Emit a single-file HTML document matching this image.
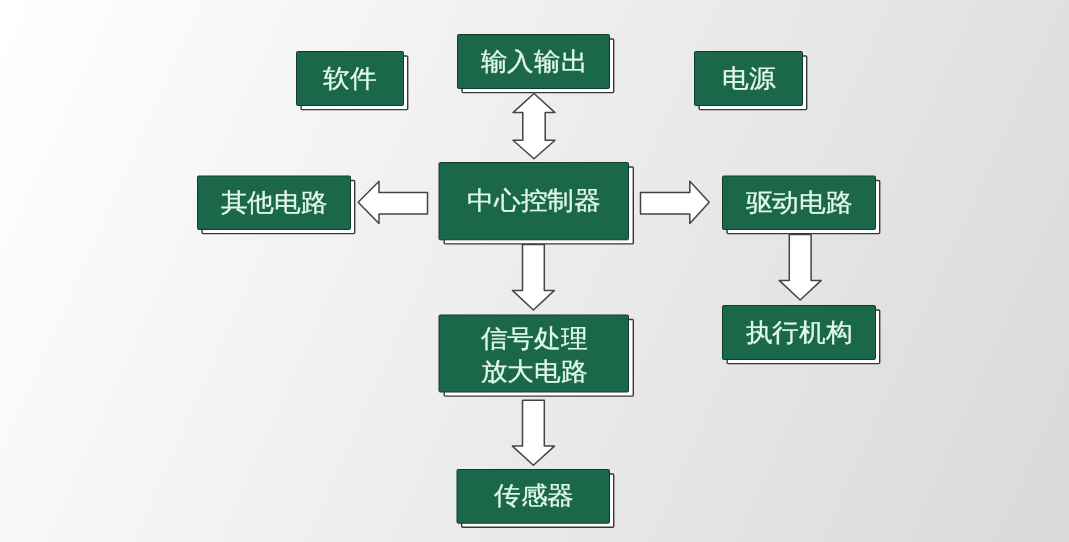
<!DOCTYPE html>
<html><head><meta charset="utf-8">
<style>
html,body{margin:0;padding:0;}
body{width:1069px;height:542px;overflow:hidden;position:relative;background:linear-gradient(114deg,#ffffff 0%,#d9d9d9 100%);font-family:"Liberation Sans",sans-serif;}
svg{position:absolute;left:0;top:0;}
.t{position:absolute;display:flex;align-items:center;justify-content:center;text-align:center;color:#e2f9ea;-webkit-text-stroke:0.3px #e2f9ea;font-size:26px;line-height:34px;will-change:transform;}
</style></head><body>
<svg width="1069" height="542" viewBox="0 0 1069 542">
<rect x="301.09999999999997" y="56.0" width="106.6" height="53.6" rx="1" fill="#fff" stroke="#383838" stroke-width="1.4"/><rect x="462.09999999999997" y="39.0" width="151.6" height="53.6" rx="1" fill="#fff" stroke="#383838" stroke-width="1.4"/><rect x="699.1" y="56.0" width="107.6" height="53.6" rx="1" fill="#fff" stroke="#383838" stroke-width="1.4"/><rect x="202.1" y="180.5" width="152.6" height="53.1" rx="1" fill="#fff" stroke="#383838" stroke-width="1.4"/><rect x="444.2" y="167.0" width="189.1" height="76.89999999999999" rx="1" fill="#fff" stroke="#383838" stroke-width="1.4"/><rect x="727.1" y="180.5" width="152.6" height="53.1" rx="1" fill="#fff" stroke="#383838" stroke-width="1.4"/><rect x="444.2" y="319.5" width="189.1" height="76.6" rx="1" fill="#fff" stroke="#383838" stroke-width="1.4"/><rect x="727.1" y="310.0" width="152.6" height="53.6" rx="1" fill="#fff" stroke="#383838" stroke-width="1.4"/><rect x="461.59999999999997" y="474.0" width="152.1" height="53.300000000000004" rx="1" fill="#fff" stroke="#383838" stroke-width="1.4"/>
<path d="M534,93.5 L555,112.6 L545.2,112.6 L545.2,140.3 L555,140.3 L534,158.8 L513,140.3 L522.8,140.3 L522.8,112.6 L513,112.6 Z" fill="#fff" stroke="#444" stroke-width="1.5" stroke-linejoin="round"/><path d="M358.2,202.2 L379,181.3 L379,192.5 L427.5,192.5 L427.5,214 L379,214 L379,223.5 Z" fill="#fff" stroke="#444" stroke-width="1.5" stroke-linejoin="round"/><path d="M640.5,192.5 L689.8,192.5 L689.8,181.3 L709.2,202.2 L689.8,223.5 L689.8,214 L640.5,214 Z" fill="#fff" stroke="#444" stroke-width="1.5" stroke-linejoin="round"/><path d="M522.5,244.6 L544.3,244.6 L544.3,290.4 L554.4,290.4 L533.4,310.0 L512.4,290.4 L522.5,290.4 Z" fill="#fff" stroke="#444" stroke-width="1.5" stroke-linejoin="round"/><path d="M522.5,400.3 L544.3,400.3 L544.3,446.1 L554.4,446.1 L533.4,465.2 L512.4,446.1 L522.5,446.1 Z" fill="#fff" stroke="#444" stroke-width="1.5" stroke-linejoin="round"/><path d="M789.3000000000001,234.6 L811.1,234.6 L811.1,280.4 L821.2,280.4 L800.2,300.0 L779.2,280.4 L789.3000000000001,280.4 Z" fill="#fff" stroke="#444" stroke-width="1.5" stroke-linejoin="round"/>
<rect x="296.5" y="51.5" width="107" height="54" rx="1.2" fill="#1a6849" stroke="#103d2a" stroke-width="1"/><rect x="457.5" y="34.5" width="152" height="54" rx="1.2" fill="#1a6849" stroke="#103d2a" stroke-width="1"/><rect x="694.5" y="51.5" width="108" height="54" rx="1.2" fill="#1a6849" stroke="#103d2a" stroke-width="1"/><rect x="197.5" y="176.0" width="153" height="53.5" rx="1.2" fill="#1a6849" stroke="#103d2a" stroke-width="1"/><rect x="439.0" y="162.5" width="189.5" height="77.3" rx="1.2" fill="#1a6849" stroke="#103d2a" stroke-width="1"/><rect x="722.5" y="176.0" width="153" height="53.5" rx="1.2" fill="#1a6849" stroke="#103d2a" stroke-width="1"/><rect x="439.0" y="315.0" width="189.5" height="77" rx="1.2" fill="#1a6849" stroke="#103d2a" stroke-width="1"/><rect x="722.5" y="305.5" width="153" height="54" rx="1.2" fill="#1a6849" stroke="#103d2a" stroke-width="1"/><rect x="457.0" y="469.5" width="152.5" height="53.7" rx="1.2" fill="#1a6849" stroke="#103d2a" stroke-width="1"/>
</svg>
<div class="t" style="left:296px;top:51px;width:108px;height:55px"><span style="display:inline-block;transform:translateY(-0.8px) scale(1.025,0.96)">软件</span></div><div class="t" style="left:457px;top:34px;width:153px;height:55px"><span style="display:inline-block;transform:translateY(-0.8px) scale(1.025,0.96)">输入输出</span></div><div class="t" style="left:694px;top:51px;width:109px;height:55px"><span style="display:inline-block;transform:translateY(-0.8px) scale(1.025,0.96)">电源</span></div><div class="t" style="left:197px;top:175.5px;width:154px;height:54.5px"><span style="display:inline-block;transform:translateY(-0.8px) scale(1.025,0.96)">其他电路</span></div><div class="t" style="left:438.5px;top:162px;width:190.5px;height:78.3px"><span style="display:inline-block;transform:translateY(-0.8px) scale(1.025,0.96)">中心控制器</span></div><div class="t" style="left:722px;top:175.5px;width:154px;height:54.5px"><span style="display:inline-block;transform:translateY(-0.8px) scale(1.025,0.96)">驱动电路</span></div><div class="t" style="left:438.5px;top:314.5px;width:190.5px;height:78px"><span style="display:inline-block;transform:translateY(0.6px) scale(1.025,0.96)">信号处理<br>放大电路</span></div><div class="t" style="left:722px;top:305px;width:154px;height:55px"><span style="display:inline-block;transform:translateY(-0.8px) scale(1.025,0.96)">执行机构</span></div><div class="t" style="left:456.5px;top:469px;width:153.5px;height:54.7px"><span style="display:inline-block;transform:translateY(-0.8px) scale(1.025,0.96)">传感器</span></div>
</body></html>
